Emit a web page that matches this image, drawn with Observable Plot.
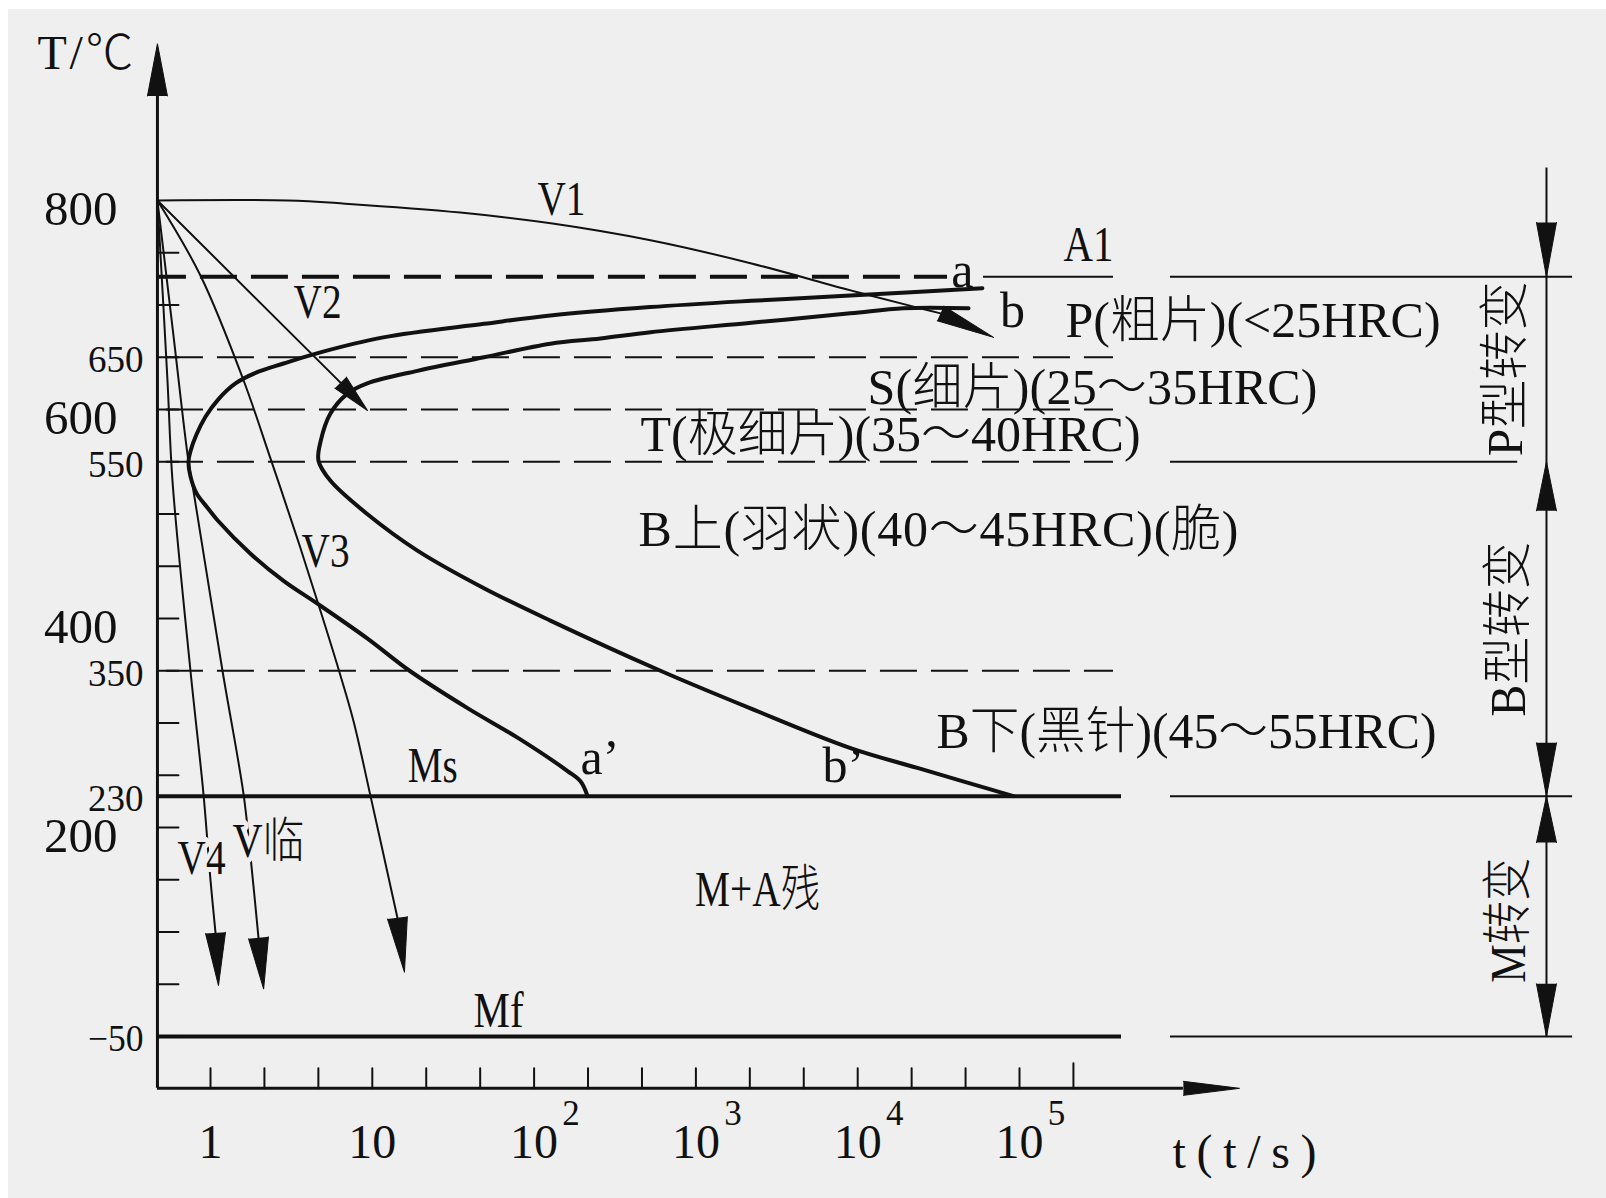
<!DOCTYPE html>
<html>
<head>
<meta charset="utf-8">
<script src="https://cdn.jsdelivr.net/npm/d3@7"></script>
<script src="https://cdn.jsdelivr.net/npm/@observablehq/plot@0.6"></script>
<style>
  html, body { margin: 0; padding: 0; background: #ffffff; }
  body { width: 1606px; height: 1198px; overflow: hidden; position: relative; }
  #bg { position: absolute; left: 8px; top: 9px; right: 0; bottom: 0; background: #efefef; }
  #chart { position: absolute; left: 0; top: 0; }
</style>
</head>
<body>
<div id="bg"></div>
<div id="chart"></div>
<script>
// ---------------- data (time t in s, temperature T in °C) ----------------
const xTicks = [1, 2.154, 4.642, 10, 21.54, 46.42, 100, 215.4, 464.2, 1000, 2154, 4642, 10000, 21544, 46416, 100000, 215443];
const decadeValues = [1, 10, 100, 1000, 10000, 100000];
const decadeBase = ["1", "10", "10", "10", "10", "10"];
const decadeExp = ["", "", "2", "3", "4", "5"];

const yTicks = [750, 700, 650, 600, 550, 500, 450, 400, 350, 300, 250, 200, 137.5, 75, 12.5, -50];
const yBigLabels = [800, 600, 400, 200];
const ySmallLabels = [650, 550, 350, 230, -50];

const A1 = 727;
const dashedTemps = [650, 600, 550, 350];
const Ms = 230;
const Mf = -50;
const rightTemps = [727, 550, 230, -50];
const rightEnds = [2.62e8, 1.2e8, 2.62e8, 2.62e8];

// frame geometry in data units
const axisT = 0.47;          // time at the T axis
const axisBottomT = -112;    // temperature at the t axis
const yArrowTip = 950, yArrowBase = 900;
const xArrowTip = 2.29e6, xArrowBase = 1.03e6;
const dashEndT = 381000;
const a1DashEndT = 35900;
const a1SolidStartT = 59900;
const mEndT = 427000;
const rightStartT = 857000;
const dimT = 1.807e8;
const dimTop = 831;

// C-curves
const curveStart = [[59000,716],[9000,709],[2200,704],[520,698],[126,690],[49,682],[11.7,669],[4.6,654],[2.83,644],[1.897,635],[1.427,625],[1.121,610],[0.931,593],[0.819,576],[0.752,560],[0.731,550],[0.752,536],[0.819,520],[0.958,506],[1.105,494],[1.767,462],[2.83,436],[4.6,414],[9.3,381],[17,350],[39,314],[79,286],[161,254],[194,244],[214,230]];
const curveFinish = [[48400,697],[19200,697],[9000,692],[2200,683],[524,674],[257,668],[126,663],[49,650],[19,637],[9.3,625],[7.0,615],[5.5,596],[4.8,570],[4.65,551],[5.5,532],[9.3,500],[19,465],[49,429],[126,398],[604,350],[2175,314],[9030,276],[23400,257],[91800,230]];

// cooling curves (last point = arrow tip)
const V1 = [[0.47,800],[3.0,800],[6.8,797],[35,788.5],[130,778],[524,762],[2175,740],[9030,714],[23400,697.5],[32500,692],[69100,669]];
const V2 = [[0.47,800],[6.36,625.7],[9.34,599]];
const V3 = [[0.47,800],[0.868,728],[1.60,628],[2.35,553],[3.45,476],[4.79,407],[6.09,355],[7.65,302],[9.75,230],[14.3,92],[15.8,27]];
const Vcrit = [[0.47,800],[0.586,675],[0.731,550],[0.785,522],[1.186,350],[1.60,232],[1.77,164],[1.98,68],[2.13,7]];
const V4 = [[0.47,800],[0.542,628],[0.582,532],[0.752,350],[0.905,232],[1.0,137],[1.074,74],[1.12,11]];

// right-side dimension arrows [tipT, baseT]
const dimHeads = [[727,779],[550,503],[230,281],[230,182],[-50,13]];

// labels
const labelsMid = [
  {text: "V1", t: 147.6, T: 801, fs: 48},
  {text: "V2", t: 4.59, T: 702, fs: 48},
  {text: "V3", t: 5.14, T: 464, fs: 48},
  {text: "a", t: 44400, T: 733, fs: 50},
  {text: "b", t: 90500, T: 694.6, fs: 50},
  {text: "A1", t: 267000, T: 757, fs: 50},
  {text: "Ms", t: 23.6, T: 259, fs: 50},
  {text: "Mf", t: 60.3, T: -20, fs: 50},
  {text: "M+A残", t: 2404, T: 124.7, fs: 50}
];
const labelsHalo = [
  {text: "V4", t: 0.88, T: 163},
  {text: "V临", t: 2.28, T: 183}
];
const labelsLeft = [
  {text: "P(粗片)(<25HRC)", t: 192500, T: 685},
  {text: "S(细片)(25～35HRC)", t: 11500, T: 621},
  {text: "T(极细片)(35～40HRC)", t: 455, T: 576},
  {text: "B上(羽状)(40～45HRC)(脆)", t: 442, T: 485},
  {text: "B下(黑针)(45～55HRC)", t: 30700, T: 291}
];
const labelsPrime = [
  {text: "a’", t: 193.6, T: 266.5},
  {text: "b’", t: 6060, T: 259}
];
const sideLabels = [
  {text: "P型转变", t: 1.009e8, T: 639},
  {text: "B型转变", t: 1.053e8, T: 390},
  {text: "M转变", t: 1.053e8, T: 89}
];
const axisTitleY = {text: "T/℃", t: 0.0853, T: 941};
const axisTitleX = {text: "t(t/s)", t: 883000, T: -189};

// ---------------- scales ----------------
const xOpts = {type: "log", domain: [1, 1e5], range: [210, 1019], axis: null};
const yOpts = {type: "linear", domain: [-50, 200, 800], range: [1036, 827, 200], axis: null};
const sx = Plot.scale({x: xOpts});
const sy = Plot.scale({y: yOpts});

const ink = "#111";
const FF = "'Liberation Serif','Noto Sans CJK SC',serif";
const FW = 300;

function head(tip, base, r) {
  const x1 = sx.apply(base[0]), y1 = sy.apply(base[1]);
  const x2 = sx.apply(tip[0]), y2 = sy.apply(tip[1]);
  const dx = x2 - x1, dy = y2 - y1;
  return {tip, len: Math.hypot(dx, dy), rot: Math.atan2(dx, -dy) * 180 / Math.PI, r};
}
const curveHead = (pts, r) => head(pts[pts.length - 1], pts[pts.length - 2], r);
const body = pts => pts.slice(0, -1);

const heads = [
  curveHead(V1, 8), curveHead(V2, 8), curveHead(V3, 10), curveHead(Vcrit, 10), curveHead(V4, 10),
  ...dimHeads.map(([a, b]) => head([dimT, a], [dimT, b], 10)),
  head([axisT, yArrowTip], [axisT, yArrowBase], 10),
  head([xArrowTip, axisBottomT], [xArrowBase, axisBottomT], 7)
];

const marks = [
  // isotherms
  Plot.ruleY(dashedTemps, {y: d => d, x1: axisT, x2: dashEndT, stroke: ink, strokeWidth: 2, strokeDasharray: "37,14", strokeDashoffset: 42}),
  Plot.ruleY([A1], {y: d => d, x1: axisT, x2: a1DashEndT, stroke: ink, strokeWidth: 4, strokeDasharray: "37,14", strokeDashoffset: 8}),
  Plot.ruleY([A1], {y: d => d, x1: a1SolidStartT, x2: dashEndT, stroke: ink, strokeWidth: 2}),
  Plot.ruleY([Ms, Mf], {y: d => d, x1: axisT, x2: mEndT, stroke: ink, strokeWidth: 4}),
  Plot.ruleY(rightTemps, {y: d => d, x1: rightStartT, x2: (d, i) => rightEnds[i], stroke: ink, strokeWidth: 2}),
  Plot.ruleX([dimT], {x: d => d, y1: Mf, y2: dimTop, stroke: ink, strokeWidth: 2}),
  // axes
  Plot.ruleX([axisT], {x: d => d, y1: axisBottomT, y2: yArrowBase, stroke: ink, strokeWidth: 3}),
  Plot.ruleY([axisBottomT], {y: d => d, x1: axisT, x2: xArrowBase, stroke: ink, strokeWidth: 3}),
  Plot.vector(yTicks, {x: axisT, y: d => d, rotate: 90, length: 21, anchor: "start", shape: "spike", r: 0, stroke: ink, strokeWidth: 2, fill: "none"}),
  Plot.vector(xTicks.slice(0, -1), {x: d => d, y: axisBottomT, rotate: 0, length: 20, anchor: "start", shape: "spike", r: 0, stroke: ink, strokeWidth: 2, fill: "none"}),
  Plot.vector(xTicks.slice(-1), {x: d => d, y: axisBottomT, rotate: 0, length: 25, anchor: "start", shape: "spike", r: 0, stroke: ink, strokeWidth: 2, fill: "none"}),
  // cooling curves
  Plot.line(body(V1), {x: d => d[0], y: d => d[1], stroke: ink, strokeWidth: 2, curve: "catmull-rom"}),
  Plot.line(body(V2), {x: d => d[0], y: d => d[1], stroke: ink, strokeWidth: 2}),
  Plot.line(body(V3), {x: d => d[0], y: d => d[1], stroke: ink, strokeWidth: 2, curve: "catmull-rom"}),
  Plot.line(body(Vcrit), {x: d => d[0], y: d => d[1], stroke: ink, strokeWidth: 2, curve: "catmull-rom"}),
  Plot.line(body(V4), {x: d => d[0], y: d => d[1], stroke: ink, strokeWidth: 2, curve: "catmull-rom"}),
  // C curves
  Plot.line(curveStart, {x: d => d[0], y: d => d[1], stroke: ink, strokeWidth: 4, curve: "catmull-rom"}),
  Plot.line(curveFinish, {x: d => d[0], y: d => d[1], stroke: ink, strokeWidth: 4, curve: "catmull-rom"}),
  // arrow heads
  ...heads.map(h => Plot.vector([h], {x: d => d.tip[0], y: d => d.tip[1], rotate: h.rot, length: h.len, r: h.r, anchor: "end", shape: "spike", fill: ink, stroke: ink, strokeWidth: 1})),
  // tick labels
  Plot.text(yBigLabels, {x: axisT, y: d => d, text: d => String(d), dx: -40, dy: 9, textAnchor: "end", fontSize: 49, fontFamily: FF, fontWeight: FW, fill: ink}),
  Plot.text(ySmallLabels, {x: axisT, y: d => d, text: d => d < 0 ? "−" + Math.abs(d) : String(d), dx: -14, dy: 3, textAnchor: "end", fontSize: 37, fontFamily: FF, fontWeight: FW, fill: ink}),
  Plot.text(decadeValues, {x: d => d, y: -177, text: (d, i) => decadeBase[i], fontSize: 48, fontFamily: FF, fontWeight: FW, fill: ink}),
  Plot.text(decadeValues, {x: d => d, y: -142, dx: 37, text: (d, i) => decadeExp[i], fontSize: 35, fontFamily: FF, fontWeight: FW, fill: ink}),
  Plot.text([axisTitleY], {x: d => d.t, y: d => d.T, text: d => d.text, textAnchor: "start", fontSize: 48, fontFamily: FF, fontWeight: FW, fill: ink}),
  Plot.text([axisTitleX], {x: d => d.t, y: d => d.T, text: d => d.text, textAnchor: "start", fontSize: 48, fontFamily: FF, fontWeight: FW, fill: ink}),
  // annotations
  Plot.text(labelsMid.filter(d => d.fs === 48), {x: d => d.t, y: d => d.T, text: d => d.text, fontSize: 48, fontFamily: FF, fontWeight: FW, fill: ink}),
  Plot.text(labelsMid.filter(d => d.fs === 50), {x: d => d.t, y: d => d.T, text: d => d.text, fontSize: 50, fontFamily: FF, fontWeight: FW, fill: ink}),
  Plot.text(labelsHalo, {x: d => d.t, y: d => d.T, text: d => d.text, fontSize: 48, fontFamily: FF, fontWeight: FW, fill: ink, stroke: "#efefef", strokeWidth: 10, paintOrder: "stroke"}),
  Plot.text(labelsLeft, {x: d => d.t, y: d => d.T, text: d => d.text, textAnchor: "start", fontSize: 50, fontFamily: FF, fontWeight: FW, fill: ink}),
  Plot.text(labelsPrime, {x: d => d.t, y: d => d.T, text: d => d.text, textAnchor: "start", fontSize: 50, fontFamily: "'Liberation Serif',serif", fill: ink}),
  Plot.text(sideLabels, {x: d => d.t, y: d => d.T, text: d => d.text, rotate: -90, fontSize: 50, fontFamily: FF, fontWeight: FW, fill: ink})
];

const chart = Plot.plot({
  width: 1606,
  height: 1198,
  margin: 0,
  x: xOpts,
  y: yOpts,
  style: {background: "transparent", overflow: "visible"},
  marks
});
document.getElementById("chart").append(chart);

// emulate the half-width / full-width advance of the original CJK typeface
const isFull = ch => /[\u2E80-\u9FFF\uF900-\uFAFF\uFF00-\uFFEF\u2103]/.test(ch);
chart.querySelectorAll("text").forEach(el => {
  const txt = el.textContent;
  if (!txt || txt.includes("’")) return;
  const fs = parseFloat(getComputedStyle(el).fontSize);
  let em = 0;
  for (const ch of txt) em += isFull(ch) ? 1 : 0.5;
  const target = em * fs;
  const natural = el.getComputedTextLength();
  el.setAttribute("textLength", target.toFixed(1));
  el.setAttribute("lengthAdjust", natural > target ? "spacingAndGlyphs" : "spacing");
});
</script>
</body>
</html>
